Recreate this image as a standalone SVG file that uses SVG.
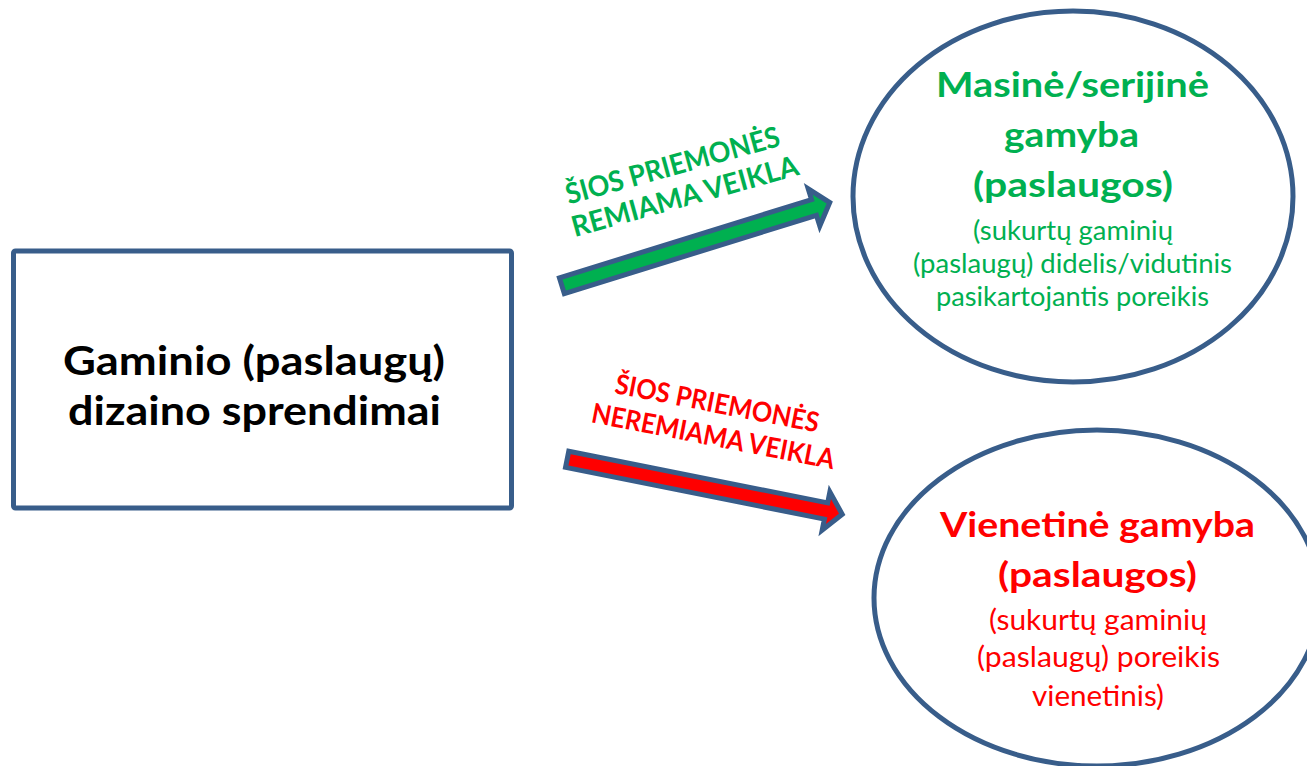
<svg xmlns="http://www.w3.org/2000/svg" width="1307" height="766" viewBox="0 0 1307 766">
<style>
.shape{fill:#FFFFFF;stroke:#385D8A;stroke-width:5}
.arrow{stroke:#385D8A;stroke-width:5;stroke-linejoin:miter;stroke-miterlimit:10}
text{font-family:Lato,"Open Sans","Liberation Sans",sans-serif;text-anchor:middle}
.b{font-weight:bold}
.blk{fill:#000000}
.grn{fill:#00B050}
.red{fill:#FF0000}
</style>
<rect width="1307" height="766" fill="#FFFFFF"/>
<g id="connectors">
<g id="arrow-green" transform="translate(559.5,286.5) rotate(-17.26)">
<polygon class="arrow" fill="#00B050" points="2.5,-8.25 266.5,-8.25 266.5,-19.5 283,0 266.5,19.5 266.5,8.25 2.5,8.25"/>
</g>
<g id="arrow-red" transform="translate(564.7,458.8) rotate(11.3)">
<polygon class="arrow" fill="#FF0000" points="2.5,-8.25 266.5,-8.25 266.5,-19.5 283,0 266.5,19.5 266.5,8.25 2.5,8.25"/>
</g>
<g id="label-green" transform="translate(681,190) rotate(-15.5)">
<text class="b grn" x="-1.5" y="-16" font-size="28.5" textLength="221" lengthAdjust="spacingAndGlyphs">ŠIOS PRIEMONĖS</text>
<text class="b grn" x="2" y="17" font-size="28.5" textLength="234" lengthAdjust="spacingAndGlyphs">REMIAMA VEIKLA</text>
</g>
<g id="label-red" transform="translate(713,428.5) rotate(11)">
<text class="b red" x="-0.7" y="-16" font-size="27.5" textLength="207" lengthAdjust="spacingAndGlyphs">ŠIOS PRIEMONĖS</text>
<text class="b red" x="1.7" y="17" font-size="27.5" textLength="247" lengthAdjust="spacingAndGlyphs">NEREMIAMA VEIKLA</text>
</g>
</g>
<g id="node-design">
<rect class="shape" x="13.5" y="251" width="498" height="257" rx="2"/>
<text class="b blk" x="254" y="375" font-size="41" textLength="382" lengthAdjust="spacingAndGlyphs">Gaminio (paslaugų)</text>
<text class="b blk" x="254.5" y="425" font-size="41" textLength="373" lengthAdjust="spacingAndGlyphs">dizaino sprendimai</text>
</g>
<g id="node-mass">
<ellipse class="shape" cx="1073" cy="196.5" rx="220" ry="185.5"/>
<text class="b grn" x="1072.5" y="97" font-size="35" textLength="273" lengthAdjust="spacingAndGlyphs">Masinė/serijinė</text>
<text class="b grn" x="1071.5" y="147" font-size="35" textLength="135" lengthAdjust="spacingAndGlyphs">gamyba</text>
<text class="b grn" x="1073" y="197" font-size="35" textLength="200" lengthAdjust="spacingAndGlyphs">(paslaugos)</text>
<text class="grn" x="1073" y="239.5" font-size="27" textLength="200" lengthAdjust="spacingAndGlyphs">(sukurtų gaminių</text>
<text class="grn" x="1072.5" y="273" font-size="27" textLength="319" lengthAdjust="spacingAndGlyphs">(paslaugų) didelis/vidutinis</text>
<text class="grn" x="1072.5" y="306" font-size="27" textLength="273" lengthAdjust="spacingAndGlyphs">pasikartojantis poreikis</text>
</g>
<g id="node-single">
<ellipse class="shape" cx="1097" cy="598" rx="223" ry="168"/>
<text class="b red" x="1097.5" y="537" font-size="35" textLength="315" lengthAdjust="spacingAndGlyphs">Vienetinė gamyba</text>
<text class="b red" x="1097.5" y="587" font-size="35" textLength="199" lengthAdjust="spacingAndGlyphs">(paslaugos)</text>
<text class="red" x="1098" y="629.5" font-size="29.5" textLength="218" lengthAdjust="spacingAndGlyphs">(sukurtų gaminių</text>
<text class="red" x="1098.5" y="667" font-size="29.5" textLength="243" lengthAdjust="spacingAndGlyphs">(paslaugų) poreikis</text>
<text class="red" x="1098" y="705.5" font-size="29.5" textLength="132" lengthAdjust="spacingAndGlyphs">vienetinis)</text>
</g>
</svg>
